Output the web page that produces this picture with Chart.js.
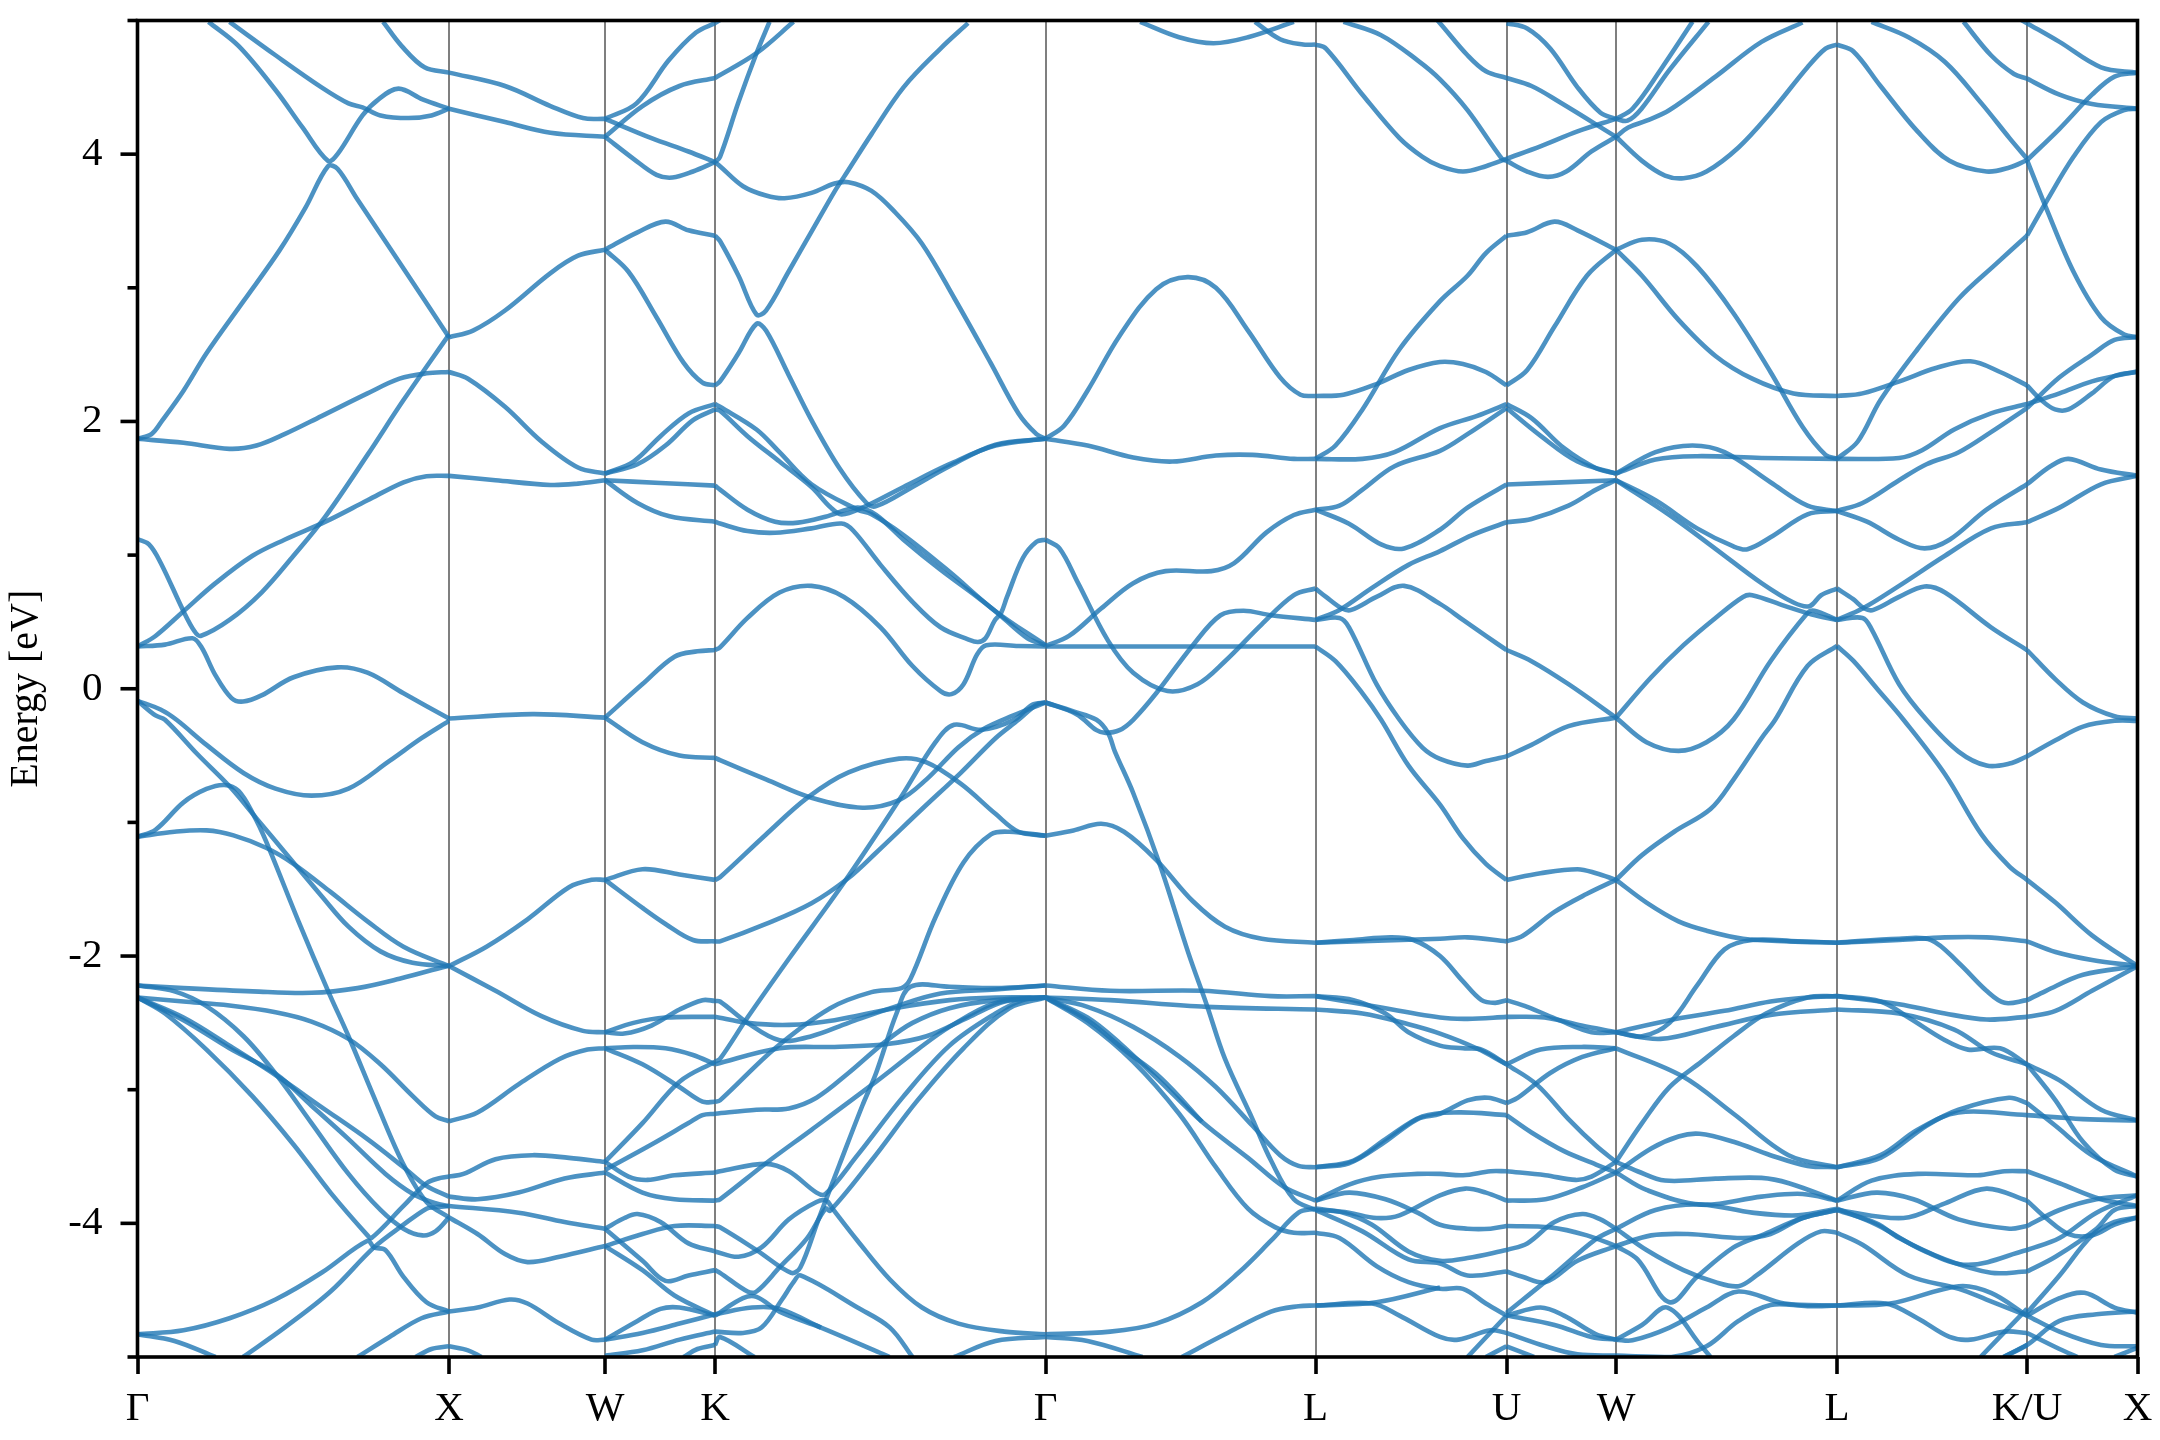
<!DOCTYPE html>
<html>
<head>
<meta charset="utf-8">
<title>Band structure</title>
<script src="https://cdn.jsdelivr.net/npm/chart.js@4"></script>
<style>
  html, body { margin: 0; background: #fff; }
  canvas { display: block; }
</style>
</head>
<body>
<canvas id="bands" width="2160" height="1440"></canvas>
<script>
// k-path positions and their labels
const kTicks = [0, 311.5, 467.5, 577.5, 908, 1178, 1369, 1478.5, 1699.5, 1889.5, 2000];
const kLabels = ['Γ', 'X', 'W', 'K', 'Γ', 'L', 'U', 'W', 'L', 'K/U', 'X'];
const energyTicks = [-4, -3, -2, -1, 0, 1, 2, 3, 4];

// Bands, one list per path segment.
// Each curve is a flat list: k, E, k, E, ...
const gammaX = [
  [71,4.99, 101,4.81, 138,4.48, 165,4.2, 190.5,3.95, 200,4.0, 225,4.29, 241,4.41, 261,4.49, 285,4.41, 311.5,4.34],
  [0,1.87, 14,1.905, 25,2.01, 46,2.23, 69,2.51, 106,2.9, 142,3.28, 168,3.6, 190.5,3.91, 200,3.89, 220,3.66, 262,3.19, 311.5,2.63],
  [92,4.99, 138,4.74, 184,4.5, 211,4.38, 225,4.35, 243,4.29, 271,4.27, 294,4.29, 311.5,4.34],
  [245.6,4.99, 264,4.81, 287,4.65, 311.5,4.61],
  [0,1.87, 46,1.84, 92,1.795, 119,1.82, 147,1.905, 184,2.04, 230,2.21, 262,2.32, 289,2.36, 311.5,2.37],
  [0,0.316, 18,0.395, 46,0.58, 78,0.79, 115,0.995, 147,1.115, 188,1.25, 230,1.41, 266,1.545, 289,1.59, 311.5,1.593],
  [0,1.12, 11.5,1.08, 23,0.945, 46,0.58, 57,0.43, 63,0.395, 92,0.515, 124,0.72, 156,0.995, 188,1.29, 230,1.75, 266,2.16, 311.5,2.65],
  [0,0.316, 27.5,0.33, 55,0.378, 64,0.31, 78,0.10, 94,-0.07, 105.6,-0.096, 124,-0.05, 156,0.086, 200,0.16, 230,0.12, 266,-0.034, 311.5,-0.223],
  [0,-0.09, 23,-0.155, 39,-0.232, 69,-0.42, 106,-0.63, 138,-0.747, 174,-0.80, 211,-0.747, 252,-0.54, 284,-0.37, 311.5,-0.24],
  [0,-0.09, 18,-0.2, 27.5,-0.232, 60,-0.49, 92,-0.73, 119,-0.97, 151.5,-1.26, 184,-1.55, 211,-1.78, 243,-1.965, 275,-2.05, 311.5,-2.075],
  [0,-1.107, 18,-1.055, 46,-0.85, 69,-0.75, 87,-0.72, 101,-0.764, 115.5,-0.936, 128.5,-1.14, 161,-1.74, 190.5,-2.26, 211,-2.6, 239,-3.1, 266,-3.56, 289,-3.84, 311.5,-3.956],
  [0,-1.107, 37,-1.07, 69,-1.06, 96,-1.097, 128.5,-1.19, 156,-1.31, 193,-1.52, 230,-1.74, 266,-1.93, 311.5,-2.075],
  [0,-2.22, 46,-2.24, 115,-2.264, 174,-2.275, 220,-2.24, 262,-2.17, 311.5,-2.07],
  [0,-2.31, 46,-2.34, 92,-2.37, 138,-2.42, 174,-2.49, 211,-2.62, 243,-2.81, 275.5,-3.05, 298,-3.2, 311.5,-3.236],
  [0,-2.22, 37,-2.264, 69,-2.375, 106,-2.6, 138,-2.88, 174,-3.25, 211,-3.63, 243,-3.9, 266,-4.04, 285,-4.09, 298,-4.06, 311.5,-3.956],
  [0,-2.31, 46,-2.46, 92,-2.67, 138,-2.89, 184,-3.13, 230,-3.37, 266,-3.58, 289,-3.72, 311.5,-3.80],
  [0,-2.31, 46,-2.48, 92,-2.69, 138,-2.88, 174,-3.12, 211,-3.37, 248,-3.63, 275.5,-3.78, 298,-3.85, 311.5,-3.87],
  [0,-2.31, 27.5,-2.43, 69,-2.70, 115,-3.05, 156,-3.41, 193,-3.77, 230,-4.09, 234,-4.11, 266,-3.87, 289,-3.70, 303,-3.66, 311.5,-3.65],
  [105.6,-5, 147,-4.78, 193,-4.51, 236.5,-4.18, 266,-4.01, 289,-3.89, 297,-3.88, 311.5,-3.87],
  [0,-4.83, 46,-4.80, 92,-4.71, 138,-4.57, 184,-4.37, 230,-4.13, 236.5,-4.18, 248,-4.2, 266,-4.4, 289,-4.59, 311.5,-4.66],
  [0,-4.83, 37,-4.88, 78,-5.0],
  [220,-5, 252,-4.85, 284,-4.71, 311.5,-4.66],
  [278,-5, 294,-4.94, 311.5,-4.92],
];

const xW = [
  [311.5,4.61, 367.5,4.51, 413,4.36, 445.5,4.27, 467.5,4.264],
  [311.5,4.34, 367.5,4.24, 413,4.16, 467.5,4.13],
  [311.5,2.63, 335.5,2.68, 367.5,2.83, 413,3.11, 440.5,3.24, 467.5,3.285],
  [311.5,2.37, 330.5,2.32, 367.5,2.11, 404,1.85, 440.5,1.655, 467.5,1.61],
  [311.5,1.593, 358,1.56, 413,1.525, 440.5,1.535, 467.5,1.56],
  [311.5,-0.223, 395,-0.19, 467.5,-0.216],
  [311.5,-2.075, 349,-1.93, 390,-1.725, 431.5,-1.485, 454,-1.43, 467.5,-1.43],
  [311.5,-2.075, 358,-2.26, 404,-2.45, 445.5,-2.56, 467.5,-2.57],
  [311.5,-3.236, 340,-3.17, 381,-2.96, 422,-2.77, 450,-2.70, 467.5,-2.69],
  [311.5,-3.65, 326,-3.63, 358,-3.52, 395,-3.49, 431.5,-3.51, 467.5,-3.54],
  [311.5,-3.80, 340,-3.82, 381,-3.77, 427,-3.665, 467.5,-3.62],
  [311.5,-3.87, 381,-3.92, 427,-3.99, 467.5,-4.04],
  [311.5,-3.956, 340,-4.08, 367.5,-4.23, 390,-4.29, 422,-4.25, 467.5,-4.17],
  [311.5,-4.66, 340,-4.63, 372,-4.57, 390,-4.6, 422,-4.75, 454,-4.87, 467.5,-4.87],
  [311.5,-4.92, 330.5,-4.95, 344,-5],
];

const wK = [
  [467.5,4.264, 499,4.38, 531,4.70, 558.5,4.91, 577.5,4.98],
  [467.5,4.13, 505,4.36, 542,4.51, 577.5,4.57],
  [467.5,4.264, 514,4.12, 551,4.02, 577.5,3.94],
  [467.5,4.13, 496,3.965, 519,3.845, 535,3.825, 555.5,3.87, 577.5,3.94],
  [467.5,3.285, 500,3.415, 528,3.495, 551,3.43, 577.5,3.39],
  [467.5,3.285, 491,3.12, 519,2.78, 546,2.44, 565,2.29, 577.5,2.27],
  [467.5,1.61, 496,1.70, 523,1.89, 551,2.06, 577.5,2.13],
  [467.5,1.61, 500,1.68, 528,1.82, 555.5,2.01, 577.5,2.09],
  [467.5,1.56, 523,1.54, 577.5,1.52],
  [467.5,1.56, 500,1.39, 532,1.29, 577.5,1.25],
  [467.5,-0.216, 505,0.035, 537,0.24, 560,0.28, 577.5,0.29],
  [467.5,-0.216, 505,-0.40, 542,-0.5, 577.5,-0.517],
  [467.5,-1.43, 505,-1.35, 542,-1.39, 577.5,-1.43],
  [467.5,-1.43, 505,-1.64, 528,-1.76, 555.5,-1.88, 577.5,-1.89],
  [467.5,-2.57, 496,-2.50, 528,-2.46, 577.5,-2.455],
  [467.5,-2.57, 486.7,-2.58, 514,-2.52, 542,-2.40, 565,-2.33, 577.5,-2.336],
  [467.5,-2.69, 496,-2.68, 528,-2.69, 555.5,-2.74, 577.5,-2.81],
  [467.5,-2.69, 505,-2.81, 542,-2.98, 565,-3.09, 577.5,-3.09],
  [467.5,-3.54, 505,-3.25, 542,-2.94, 577.5,-2.79],
  [467.5,-3.6, 514,-3.41, 551,-3.25, 565,-3.19, 577.5,-3.18],
  [467.5,-3.54, 491,-3.65, 510,-3.675, 537,-3.64, 577.5,-3.62],
  [467.5,-3.62, 505,-3.77, 537,-3.82, 577.5,-3.83],
  [467.5,-4.04, 487,-3.96, 500,-3.93, 523,-3.99, 551,-4.15, 577.5,-4.21],
  [467.5,-4.04, 505,-4.28, 528,-4.43, 551,-4.39, 577.5,-4.35],
  [467.5,-4.17, 505,-4.08, 537,-4.02, 577.5,-4.02],
  [467.5,-4.17, 505,-4.35, 537,-4.54, 577.5,-4.69],
  [467.5,-4.87, 500,-4.73, 523,-4.64, 542,-4.63, 577.5,-4.69],
  [467.5,-4.87, 505,-4.82, 542,-4.75, 577.5,-4.68],
  [467.5,-4.99, 505,-4.95, 542,-4.87, 577.5,-4.81],
  [546,-5, 560,-4.94, 577.5,-4.91],
];

const kGamma = [
  [577.5,4.98, 592,5.05],
  [577.5,4.57, 619,4.755, 656,4.99],
  [577.5,3.94, 582.5,3.98, 601,4.39, 619,4.755, 632,4.99],
  [577.5,3.94, 582.5,3.91, 605.5,3.76, 628.5,3.69, 647,3.67, 674,3.71, 697,3.78, 711,3.79, 734,3.725, 757,3.57, 784.5,3.33, 817,2.92, 853,2.44, 881,2.06, 899,1.905, 908,1.87],
  [577.5,3.39, 582.5,3.35, 601,3.09, 619,2.80, 628.5,2.83, 651,3.12, 674,3.42, 697,3.72, 706.5,3.83, 734,4.15, 766,4.50, 803,4.79, 830.5,4.98],
  [577.5,2.27, 582.5,2.30, 601,2.51, 619,2.73, 628.5,2.68, 651,2.35, 674,2.01, 702,1.65, 729,1.39, 738.6,1.366, 775,1.51, 812,1.665, 858,1.826, 908,1.87],
  [577.5,2.13, 582.5,2.11, 619,1.94, 642,1.77, 674,1.53, 720,1.34, 734,1.305, 766,1.15, 812,0.875, 858,0.58, 908,0.326],
  [577.5,2.09, 582.5,2.08, 610,1.89, 642,1.70, 674,1.51, 692.7,1.36, 704,1.305, 725,1.355, 766,1.51, 812,1.68, 858,1.82, 908,1.87],
  [577.5,1.52, 582.5,1.49, 610,1.34, 637.6,1.25, 660.5,1.243, 688,1.287, 720,1.356, 738.6,1.30, 766,1.115, 803,0.89, 839.6,0.687, 862.6,0.55, 890,0.378, 908,0.326],
  [577.5,1.25, 582.5,1.236, 610,1.18, 637.6,1.167, 674,1.20, 704,1.236, 715.6,1.184, 743,0.927, 775,0.65, 803,0.46, 830.5,0.37, 840.5,0.35, 848,0.378, 857,0.508, 863.5,0.566, 869.5,0.687, 885.5,0.98, 899,1.10, 908,1.115],
  [577.5,0.29, 582.5,0.31, 610,0.53, 642,0.72, 674,0.77, 706.5,0.687, 743,0.46, 775,0.17, 803,-0.017, 814,-0.04, 826,0.034, 839.6,0.257, 848.8,0.326, 881,0.32, 908,0.316],
  [577.5,-0.517, 582.5,-0.534, 628.5,-0.678, 674,-0.815, 725,-0.89, 761.6,-0.833, 789,-0.678, 821,-0.437, 846.5,-0.30, 876,-0.2, 908,-0.103],
  [577.5,-1.43, 582.5,-1.41, 628.5,-1.09, 670,-0.815, 711,-0.626, 761.6,-0.523, 789,-0.55, 823.5,-0.712, 858,-0.936, 881,-1.07, 908,-1.10],
  [577.5,-1.89, 582.5,-1.89, 628.5,-1.76, 674,-1.605, 711,-1.416, 738.6,-1.227, 784.5,-0.9, 823.5,-0.627, 858,-0.37, 881,-0.232, 899,-0.12, 908,-0.103],
  [577.5,-2.79, 582.5,-2.77, 610,-2.46, 651.4,-2.02, 706.5,-1.45, 761.6,-0.833, 798,-0.40, 816.6,-0.27, 844,-0.307, 876.6,-0.232, 894.7,-0.12, 908,-0.103],
  [577.5,-2.336, 582.5,-2.34, 610,-2.5, 642,-2.63, 674,-2.6, 711,-2.5, 757,-2.38, 803,-2.28, 858,-2.25, 908,-2.22],
  [577.5,-2.455, 610,-2.50, 651.4,-2.515, 697,-2.48, 757,-2.39, 812,-2.33, 858,-2.31, 908,-2.31],
  [577.5,-3.09, 582.5,-3.08, 637.6,-2.69, 692.7,-2.39, 734,-2.27, 764,-2.24, 773,-2.17, 798,-1.71, 826,-1.30, 853.4,-1.09, 871.8,-1.07, 908,-1.10],
  [577.5,-2.81, 642,-2.69, 697,-2.68, 747.8,-2.66, 789,-2.6, 830.5,-2.46, 867,-2.34, 908,-2.31],
  [577.5,-3.18, 619,-3.15, 651.4,-3.14, 679,-3.06, 711,-2.875, 747.8,-2.64, 775,-2.50, 812,-2.39, 858,-2.33, 908,-2.31],
  [577.5,-3.83, 582.5,-3.82, 628.5,-3.55, 674,-3.30, 738.6,-2.94, 780,-2.70, 812,-2.53, 858,-2.35, 908,-2.31],
  [577.5,-3.62, 582.5,-3.61, 628.5,-3.555, 651.4,-3.61, 679,-3.77, 688,-3.78, 720,-3.49, 766,-3.05, 812,-2.67, 858,-2.43, 885.5,-2.33, 908,-2.31],
  [577.5,-4.02, 582.5,-4.03, 619,-4.2, 653.7,-4.37, 662.8,-4.33, 681,-3.97, 702,-3.56, 724.8,-3.12, 738.6,-2.875, 759,-2.43, 773,-2.23, 812,-2.23, 858,-2.24, 908,-2.22],
  [577.5,-4.21, 601,-4.25, 624,-4.18, 651.4,-3.97, 679,-3.84, 689,-3.83, 695,-3.89, 720,-4.13, 752.4,-4.42, 784.5,-4.63, 821,-4.75, 867,-4.81, 908,-4.83],
  [577.5,-4.35, 582.5,-4.37, 610,-4.51, 619,-4.51, 642,-4.33, 669.7,-4.11, 688,-3.89, 692.7,-3.905, 734,-3.53, 780,-3.08, 826,-2.69, 871.8,-2.39, 908,-2.31],
  [577.5,-4.69, 605.5,-4.56, 619,-4.55, 642,-4.66, 683.5,-4.78, 743,-4.97, 752,-5],
  [577.5,-4.68, 614.6,-4.63, 642,-4.64, 683.5,-4.78],
  [577.5,-4.81, 605.5,-4.82, 624,-4.78, 644.5,-4.57, 656,-4.44, 663,-4.39, 720,-4.63, 752.4,-4.78, 775,-5],
  [816.6,-5, 858,-4.88, 908,-4.85],
  [577.5,-4.91, 582.5,-4.85, 617,-5],
];

const gammaL = [
  [1002.6,4.99, 1041.6,4.875, 1076,4.83, 1110.5,4.875, 1156.4,4.99],
  [1117.4,4.99, 1142.6,4.86, 1165.6,4.82, 1178,4.82],
  [908,1.87, 926.8,1.97, 950,2.23, 982,2.64, 1018.7,2.99, 1050,3.08, 1078.4,3.0, 1110.5,2.68, 1142.6,2.33, 1163,2.2, 1178,2.19],
  [908,1.87, 950,1.82, 995.7,1.73, 1034.7,1.70, 1078.4,1.745, 1115,1.75, 1156.4,1.72, 1178,1.72],
  [908,1.115, 922,1.05, 940.6,0.79, 970.5,0.36, 995.7,0.12, 1030,-0.017, 1060,0.034, 1087.5,0.206, 1124,0.48, 1156.4,0.70, 1178,0.75],
  [908,0.32, 931.5,0.395, 963.6,0.60, 995.7,0.79, 1028,0.88, 1073.8,0.88, 1096.7,0.94, 1129,1.17, 1156.4,1.30, 1178,1.34],
  [908,0.316, 1178,0.316],
  [908,-0.103, 939,-0.19, 959,-0.31, 968,-0.33, 982,-0.31, 995.7,-0.232, 1018.7,-0.034, 1055.4,0.326, 1083,0.55, 1106,0.584, 1133.5,0.55, 1178,0.515],
  [908,-0.103, 936,-0.17, 959,-0.232, 970.5,-0.33, 977.4,-0.47, 995.7,-0.78, 1023,-1.33, 1051,-1.98, 1069,-2.36, 1087.5,-2.77, 1115,-3.22, 1133.5,-3.53, 1156.4,-3.82, 1178,-3.9],
  [908,-1.10, 936,-1.06, 963.6,-1.01, 986.5,-1.07, 1018.7,-1.28, 1055.4,-1.59, 1087.5,-1.78, 1124.3,-1.87, 1178,-1.90],
  [908,-2.22, 972.7,-2.26, 1064.5,-2.26, 1133.5,-2.30, 1178,-2.30],
  [908,-2.31, 972.7,-2.33, 1069,-2.38, 1178,-2.40],
  [908,-2.31, 950,-2.38, 995.7,-2.53, 1041.6,-2.75, 1078.4,-2.98, 1115,-3.27, 1142.6,-3.49, 1161,-3.57, 1178,-3.58],
  [908,-2.31, 950,-2.46, 982,-2.65, 1018.7,-2.91, 1064.5,-3.24, 1110.5,-3.51, 1147,-3.73, 1178,-3.83],
  [908,-2.31, 950,-2.48, 986.5,-2.70, 1023,-2.91, 1064.5,-3.24],
  [908,-2.31, 950,-2.5, 995.7,-2.79, 1041.6,-3.18, 1078.4,-3.58, 1110.5,-3.89, 1138,-4.03, 1156.4,-4.07, 1178,-4.07],
  [908,-4.83, 972.7,-4.81, 1018.7,-4.75, 1064.5,-4.59, 1101,-4.37, 1133.5,-4.13, 1161,-3.92, 1178,-3.89],
  [908,-4.85, 950,-4.88, 1005,-5],
  [1044.4,-5, 1087.5,-4.83, 1133.5,-4.66, 1161,-4.62, 1178,-4.615],
];

const lU = [
  [1178,4.82, 1188.5,4.79, 1225,4.445, 1262,4.12, 1285,3.98, 1302.5,3.91, 1325.5,3.87, 1348.4,3.91, 1369,3.965],
  [1295,5.04, 1302.5,4.98, 1330,4.74, 1348.4,4.62, 1369,4.57],
  [1206,4.99, 1243.6,4.89, 1280.4,4.70, 1302.5,4.56, 1330,4.33, 1364.5,3.965, 1369,3.95],
  [1178,2.19, 1206,2.2, 1239,2.28, 1271,2.385, 1302.5,2.445, 1325.5,2.43, 1348.4,2.37, 1369,2.27],
  [1178,1.72, 1198,1.82, 1225,2.09, 1262,2.54, 1302.5,2.9, 1330,3.09, 1348.4,3.26, 1369,3.39],
  [1178,1.72, 1225,1.72, 1257,1.77, 1302.5,1.95, 1339,2.04, 1369,2.13],
  [1178,1.34, 1202,1.37, 1225,1.49, 1257,1.665, 1302.5,1.78, 1330,1.905, 1369,2.1],
  [1178,1.34, 1211.5,1.235, 1243.6,1.08, 1266.6,1.05, 1302.5,1.19, 1330,1.355, 1369,1.528],
  [1178,0.75, 1188.5,0.687, 1204.6,0.60, 1213.8,0.59, 1239,0.687, 1266.6,0.77, 1302.5,0.635, 1325.5,0.515, 1348.4,0.395, 1369,0.29],
  [1178,0.515, 1202,0.59, 1234.5,0.755, 1271,0.927, 1302.5,1.03, 1334.6,1.15, 1369,1.246],
  [1178,0.515, 1202,0.53, 1211.5,0.46, 1239,0.034, 1262,-0.232, 1285,-0.44, 1302.5,-0.524, 1330,-0.575, 1348.4,-0.54, 1369,-0.506],
  [1178,0.316, 1198,0.206, 1225,-0.034, 1243.6,-0.232, 1271,-0.575, 1302.5,-0.867, 1325.5,-1.12, 1348.4,-1.31, 1369,-1.43],
  [1178,-1.90, 1216,-1.88, 1253,-1.86, 1276,-1.88, 1302.5,-2.0, 1325.5,-2.19, 1344,-2.33, 1357.6,-2.35, 1369,-2.33],
  [1178,-1.90, 1302.5,-1.87, 1330,-1.86, 1369,-1.89],
  [1178,-2.3, 1216,-2.33, 1248,-2.43, 1271,-2.57, 1302.5,-2.67, 1325.5,-2.69, 1344,-2.7, 1369,-2.81],
  [1178,-2.3, 1225,-2.36, 1302.5,-2.46, 1330,-2.47, 1369,-2.455],
  [1178,-2.4, 1225,-2.43, 1271,-2.51, 1302.5,-2.58, 1339,-2.69, 1369,-2.81],
  [1178,-3.58, 1211.5,-3.55, 1243.6,-3.41, 1280,-3.22, 1302.5,-3.18, 1330,-3.08, 1350.7,-3.06, 1369,-3.1],
  [1178,-3.58, 1216,-3.53, 1248,-3.37, 1285,-3.2, 1321,-3.17, 1369,-3.19],
  [1178,-3.83, 1211.5,-3.71, 1243.6,-3.65, 1280,-3.63, 1302.5,-3.63, 1325.5,-3.64, 1353,-3.61, 1369,-3.61],
  [1178,-3.83, 1211.5,-3.77, 1248,-3.82, 1280,-3.92, 1302.5,-4.01, 1330,-4.04, 1353,-4.04, 1369,-4.02],
  [1178,-3.89, 1211.5,-3.92, 1239,-3.96, 1262,-3.94, 1302.5,-3.79, 1327.8,-3.74, 1348.4,-3.77, 1369,-3.83],
  [1178,-3.9, 1206,-3.92, 1234.5,-4.01, 1271,-4.21, 1302.5,-4.28, 1330,-4.26, 1369,-4.2],
  [1178,-3.9, 1225,-4.06, 1271,-4.27, 1302.5,-4.3, 1330,-4.39, 1369,-4.36],
  [1178,-4.07, 1202,-4.11, 1239,-4.32, 1271,-4.44, 1302.5,-4.49, 1325.5,-4.49, 1348.4,-4.6, 1369,-4.69],
  [1178,-4.615, 1234.5,-4.6, 1262,-4.69, 1302.5,-4.85, 1321,-4.87, 1353,-4.8, 1369,-4.82],
  [1178,-4.615, 1239,-4.59, 1302.5,-4.48],
  [1330,-5, 1369,-4.69],
  [1348.4,-5, 1369,-4.92],
];

const uW = [
  [1369,4.57, 1394,4.51, 1422,4.39, 1478.5,4.13],
  [1369,3.95, 1389.7,3.87, 1410.4,3.83, 1428.8,3.87, 1454,4.02, 1478.5,4.13],
  [1369,3.965, 1403.5,4.06, 1440,4.17, 1478.5,4.264],
  [1369,4.98, 1389.7,4.94, 1412.7,4.79, 1440,4.5, 1463,4.31, 1478.5,4.264],
  [1369,3.39, 1389.7,3.416, 1417,3.495, 1440,3.43, 1478.5,3.285],
  [1369,2.27, 1389.7,2.385, 1417,2.71, 1449.4,3.09, 1478.5,3.285],
  [1369,2.13, 1394,2.025, 1426.5,1.80, 1458.6,1.65, 1478.5,1.61],
  [1369,2.1, 1403.5,1.89, 1440,1.70, 1478.5,1.61],
  [1369,1.528, 1478.5,1.56],
  [1369,1.246, 1394,1.27, 1431,1.37, 1458.6,1.49, 1478.5,1.56],
  [1369,0.29, 1394,0.206, 1431,0.034, 1478.5,-0.216],
  [1369,-0.506, 1394,-0.42, 1431,-0.28, 1478.5,-0.216],
  [1369,-1.43, 1403,-1.38, 1440,-1.35, 1458.6,-1.38, 1478.5,-1.43],
  [1369,-1.89, 1385,-1.85, 1417,-1.67, 1449,-1.536, 1478.5,-1.43],
  [1369,-2.33, 1389.7,-2.38, 1421.7,-2.48, 1454,-2.57, 1478.5,-2.57],
  [1369,-2.455, 1407,-2.46, 1444,-2.52, 1478.5,-2.57],
  [1369,-2.81, 1403,-2.70, 1444,-2.68, 1478.5,-2.69],
  [1369,-2.81, 1399,-2.96, 1431,-3.22, 1458.6,-3.42, 1478.5,-3.54],
  [1369,-3.1, 1380.5,-3.06, 1412.7,-2.875, 1444.8,-2.755, 1478.5,-2.69],
  [1369,-3.19, 1394,-3.32, 1426.5,-3.46, 1458.6,-3.56, 1478.5,-3.62],
  [1369,-3.61, 1408,-3.64, 1438,-3.675, 1454,-3.65, 1478.5,-3.54],
  [1369,-3.83, 1408,-3.82, 1444.8,-3.73, 1478.5,-3.62],
  [1369,-4.02, 1412.7,-4.03, 1449.4,-4.09, 1478.5,-4.17],
  [1369,-4.2, 1389.7,-4.15, 1417,-3.99, 1444.8,-3.93, 1463,-3.97, 1478.5,-4.04],
  [1369,-4.36, 1385,-4.4, 1408,-4.44, 1440,-4.28, 1478.5,-4.17],
  [1369,-4.67, 1412,-4.41, 1458,-4.12, 1478.5,-4.04],
  [1369,-4.69, 1417,-4.76, 1454,-4.85, 1478.5,-4.87],
  [1369,-4.69, 1403,-4.63, 1426.5,-4.69, 1458.6,-4.83, 1478.5,-4.87],
  [1369,-4.82, 1408,-4.92, 1440,-4.98, 1478.5,-4.99],
  [1369,-4.92, 1396.5,-5],
];

const wL = [
  [1478.5,4.264, 1495,4.34, 1523,4.63, 1555,4.99],
  [1478.5,4.264, 1490,4.25, 1504,4.34, 1532,4.63, 1571,4.99],
  [1478.5,4.13, 1490.7,4.2, 1509,4.25, 1532,4.33, 1578,4.58, 1624,4.84, 1665,4.985],
  [1478.5,4.13, 1504.5,3.95, 1527.5,3.84, 1546,3.82, 1569,3.87, 1601,4.05, 1633,4.31, 1670,4.65, 1688,4.79, 1699.5,4.82],
  [1478.5,3.285, 1504.5,3.36, 1532,3.33, 1559.6,3.16, 1596,2.81, 1633,2.37, 1665,1.96, 1688,1.75, 1699.5,1.72],
  [1478.5,3.285, 1504.5,3.09, 1541,2.76, 1578,2.49, 1614.7,2.32, 1656,2.21, 1699.5,2.19],
  [1478.5,1.61, 1518,1.77, 1555,1.82, 1587,1.77, 1633,1.545, 1670,1.37, 1699.5,1.33],
  [1478.5,1.61, 1518,1.715, 1559.6,1.74, 1624,1.727, 1699.5,1.72],
  [1478.5,1.56, 1518,1.41, 1559.6,1.20, 1596,1.065, 1610,1.044, 1633,1.133, 1670,1.305, 1699.5,1.33],
  [1478.5,1.56, 1532,1.30, 1578,1.047, 1624,0.79, 1656,0.645, 1672,0.618, 1683.6,0.70, 1699.5,0.75],
  [1478.5,-0.216, 1513.7,0.086, 1546,0.326, 1578,0.53, 1605.5,0.687, 1614.7,0.70, 1647,0.62, 1674.4,0.556, 1699.5,0.515],
  [1478.5,-0.216, 1509,-0.40, 1541,-0.465, 1569,-0.40, 1596,-0.23, 1633,0.206, 1670,0.566, 1676.7,0.584, 1699.5,0.515],
  [1478.5,-1.43, 1504.5,-1.245, 1536.7,-1.07, 1573,-0.9, 1596,-0.68, 1624,-0.37, 1637.7,-0.232, 1670,0.17, 1699.5,0.32],
  [1478.5,-1.43, 1509,-1.6, 1541,-1.74, 1569,-1.81, 1605.5,-1.87, 1651.4,-1.89, 1699.5,-1.90],
  [1478.5,-2.57, 1532,-2.48, 1587,-2.41, 1633,-2.34, 1670,-2.31, 1699.5,-2.3],
  [1478.5,-2.57, 1504.5,-2.6, 1532,-2.5, 1559.6,-2.22, 1587,-1.95, 1614.7,-1.88, 1660,-1.89, 1699.5,-1.90],
  [1478.5,-2.57, 1523,-2.62, 1578,-2.53, 1633,-2.44, 1699.5,-2.4],
  [1478.5,-2.69, 1545,-2.9, 1596,-3.18, 1651,-3.49, 1699.5,-3.58],
  [1478.5,-3.54, 1504.5,-3.25, 1532,-2.98, 1564,-2.79, 1596,-2.6, 1628.5,-2.43, 1670,-2.31, 1699.5,-2.3],
  [1478.5,-3.62, 1513.7,-3.44, 1541,-3.35, 1562,-3.33, 1596,-3.39, 1633,-3.49, 1670,-3.57, 1699.5,-3.58],
  [1478.5,-3.54, 1500,-3.61, 1527.5,-3.68, 1578,-3.665, 1624,-3.66, 1651.4,-3.70, 1699.5,-3.83],
  [1478.5,-3.62, 1509,-3.75, 1564,-3.86, 1624,-3.8, 1665,-3.78, 1699.5,-3.83],
  [1478.5,-4.04, 1518,-3.9, 1564,-3.86, 1614.7,-3.92, 1660.6,-3.94, 1699.5,-3.89],
  [1478.5,-4.17, 1513.7,-4.09, 1550,-4.08, 1605.5,-4.11, 1633,-4.08, 1665,-3.96, 1699.5,-3.9],
  [1478.5,-4.04, 1509,-4.2, 1546,-4.35, 1578,-4.44, 1601,-4.47, 1619,-4.39, 1660.6,-4.15, 1683.6,-4.06, 1699.5,-4.07],
  [1478.5,-4.17, 1500,-4.27, 1532,-4.59, 1559.6,-4.4, 1596,-4.18, 1624,-4.09, 1665,-3.96, 1699.5,-3.9],
  [1478.5,-4.87, 1495,-4.875, 1532,-4.78, 1569,-4.63, 1601,-4.51, 1647,-4.6, 1699.5,-4.615],
  [1478.5,-4.87, 1504.5,-4.76, 1530,-4.63, 1564,-4.92, 1573,-5],
  [1478.5,-4.99, 1534,-5, 1569,-4.92, 1601,-4.73, 1633,-4.61, 1670,-4.62, 1699.5,-4.615],
];

const lK = [
  [1699.5,4.82, 1715.7,4.77, 1743,4.51, 1780,4.17, 1812,3.95, 1849,3.87, 1872,3.9, 1889.5,3.955],
  [1734,4.99, 1771,4.875, 1807.5,4.69, 1844,4.38, 1872,4.12, 1889.5,3.965],
  [1826,4.99, 1853.5,4.74, 1876.5,4.6, 1889.5,4.565],
  [1880,5.02, 1889.5,4.98],
  [1699.5,2.19, 1725,2.21, 1762,2.3, 1798.4,2.40, 1833,2.45, 1862.6,2.37, 1889.5,2.27],
  [1699.5,1.72, 1720.3,1.85, 1743,2.16, 1780,2.54, 1821.3,2.92, 1858,3.175, 1889.5,3.39],
  [1699.5,1.72, 1761.6,1.727, 1784.6,1.785, 1816.7,1.94, 1853.5,2.06, 1889.5,2.13],
  [1699.5,1.33, 1725,1.39, 1761.6,1.56, 1789,1.68, 1821.3,1.77, 1853.5,1.92, 1889.5,2.1],
  [1699.5,1.33, 1729.5,1.25, 1761.6,1.115, 1787,1.05, 1812,1.115, 1849,1.34, 1889.5,1.53],
  [1699.5,0.75, 1715.7,0.67, 1727,0.60, 1736,0.59, 1761.6,0.687, 1787,0.765, 1807.5,0.72, 1853.5,0.46, 1889.5,0.29],
  [1699.5,0.515, 1725,0.60, 1761.6,0.77, 1807.5,0.995, 1853.5,1.2, 1889.5,1.246],
  [1699.5,0.515, 1725,0.53, 1734,0.446, 1761.6,0.034, 1789,-0.232, 1821,-0.47, 1849,-0.575, 1872,-0.56, 1889.5,-0.506],
  [1699.5,0.32, 1715.7,0.21, 1739.6,0, 1766,-0.232, 1807.5,-0.64, 1844,-1.09, 1872,-1.33, 1889.5,-1.43],
  [1699.5,-1.90, 1761.6,-1.87, 1793.6,-1.88, 1821,-2.05, 1849,-2.26, 1867,-2.35, 1889.5,-2.33],
  [1699.5,-1.90, 1761.6,-1.88, 1807.5,-1.86, 1849,-1.86, 1889.5,-1.89],
  [1699.5,-2.3, 1743,-2.34, 1771,-2.46, 1807.5,-2.63, 1830.5,-2.7, 1862.6,-2.69, 1889.5,-2.81],
  [1699.5,-2.3, 1761.6,-2.36, 1807.5,-2.43, 1849,-2.475, 1889.5,-2.455],
  [1699.5,-2.4, 1761.6,-2.43, 1816.7,-2.55, 1853.5,-2.72, 1889.5,-2.81],
  [1699.5,-3.58, 1743,-3.49, 1780,-3.3, 1821,-3.17, 1889.5,-3.19],
  [1699.5,-3.58, 1743,-3.51, 1789,-3.27, 1821,-3.15, 1871.5,-3.06, 1889.5,-3.1],
  [1699.5,-3.83, 1734,-3.68, 1780,-3.63, 1840,-3.64, 1867,-3.61, 1889.5,-3.61],
  [1699.5,-3.83, 1739,-3.77, 1776,-3.82, 1821,-3.97, 1872,-4.04, 1889.5,-4.02],
  [1699.5,-3.9, 1766,-3.96, 1807.5,-3.85, 1849,-3.74, 1889.5,-3.83],
  [1699.5,-3.89, 1739,-4.01, 1785,-4.2, 1830.5,-4.31, 1889.5,-4.2],
  [1699.5,-3.9, 1739,-4.0, 1761.6,-4.11, 1807.5,-4.27, 1853.5,-4.37, 1889.5,-4.36],
  [1699.5,-4.07, 1725,-4.16, 1771,-4.39, 1821.3,-4.49, 1849,-4.57, 1889.5,-4.69],
  [1699.5,-4.615, 1752.6,-4.6, 1821.3,-4.47, 1853.5,-4.52, 1889.5,-4.69],
  [1699.5,-4.615, 1748,-4.6, 1780,-4.71, 1812,-4.85, 1833,-4.87, 1867,-4.81, 1889.5,-4.82],
  [1843,-5, 1889.5,-4.64],
  [1866,-5, 1889.5,-4.91],
];

const uX = [
  [1889.5,4.565, 1922,4.445, 1954.5,4.375, 2000,4.34],
  [1889.5,4.98, 1922,4.84, 1963.5,4.65, 2000,4.61],
  [1889.5,3.955, 1922,4.19, 1954.5,4.445, 1977,4.58, 2000,4.61],
  [1889.5,3.39, 1908.5,3.64, 1936,3.98, 1963.5,4.24, 1986.7,4.33, 2000,4.34],
  [1889.5,3.955, 1908.5,3.6, 1936,3.12, 1963.5,2.78, 1986.7,2.65, 2000,2.63],
  [1889.5,2.27, 1903.7,2.16, 1917.5,2.09, 1931,2.09, 1954.5,2.21, 1977,2.34, 2000,2.37],
  [1889.5,2.13, 1922,2.21, 1954.5,2.3, 2000,2.375],
  [1889.5,2.1, 1922,2.33, 1954.5,2.5, 1977,2.61, 2000,2.63],
  [1889.5,1.53, 1913,1.665, 1931,1.72, 1963.5,1.64, 2000,1.593],
  [1889.5,1.246, 1922,1.355, 1963.5,1.53, 2000,1.593],
  [1889.5,0.29, 1918,0.07, 1945.5,-0.103, 1977,-0.206, 2000,-0.223],
  [1889.5,-0.506, 1918,-0.386, 1945.5,-0.283, 1977,-0.24, 2000,-0.24],
  [1889.5,-1.43, 1918,-1.6, 1954.5,-1.845, 2000,-2.075],
  [1889.5,-1.89, 1918,-1.97, 1954.5,-2.03, 2000,-2.075],
  [1889.5,-2.33, 1908.5,-2.26, 1945.5,-2.14, 2000,-2.075],
  [1889.5,-2.455, 1918,-2.41, 1954.5,-2.26, 2000,-2.075],
  [1889.5,-2.81, 1922,-2.93, 1963.5,-3.15, 2000,-3.23],
  [1889.5,-2.81, 1918,-3.08, 1945.5,-3.39, 1977,-3.6, 2000,-3.65],
  [1889.5,-3.1, 1918,-3.27, 1954.5,-3.49, 2000,-3.65],
  [1889.5,-3.19, 1945.5,-3.22, 2000,-3.23],
  [1889.5,-3.61, 1922,-3.7, 1963.5,-3.82, 2000,-3.87],
  [1889.5,-3.83, 1908.5,-3.96, 1931,-4.08, 1954.5,-4.09, 1977,-4.01, 2000,-3.956],
  [1889.5,-4.02, 1922,-3.9, 1959,-3.82, 2000,-3.79],
  [1889.5,-4.2, 1922,-4.11, 1959,-3.92, 2000,-3.79],
  [1889.5,-4.36, 1918,-4.25, 1959,-4.04, 1977,-3.9, 2000,-3.87],
  [1889.5,-4.67, 1922,-4.39, 1954.5,-4.09, 1977,-3.99, 2000,-3.956],
  [1889.5,-4.69, 1922,-4.56, 1947,-4.52, 1977,-4.63, 2000,-4.67],
  [1889.5,-4.82, 1922,-4.94, 1940,-5],
  [1889.5,-4.69, 1922,-4.81, 1963.5,-4.91, 2000,-4.92],
  [1866,-5, 1889.5,-4.91, 1922,-4.73, 1959,-4.68, 2000,-4.66],
  [1977,-5, 2000,-4.93],
];

const BAND_COLOR = 'rgba(31,119,180,0.8)';
const FONT = '"Liberation Serif", "Times New Roman", serif';

// Helper: turn a flat k,E list into chart points
function toPoints(curve) {
  const points = [];
  for (let i = 0; i < curve.length; i += 2) {
    points.push({ x: curve[i], y: curve[i + 1] });
  }
  return points;
}

const allCurves = [gammaX, xW, wK, kGamma, gammaL, lU, uW, wL, lK, uX].flat();

// Frame and the y tick marks, so minor ticks can be shorter than major ones
const framePlugin = {
  id: 'frame',
  afterDraw(chart) {
    const { ctx, chartArea: a, scales: { y } } = chart;
    ctx.save();
    ctx.strokeStyle = '#000';
    ctx.lineWidth = 3.6;
    energyTicks.concat([5, -5]).forEach(v => {
      const py = y.getPixelForValue(v);
      const len = Math.abs(v) % 2 === 0 ? 17 : 10;
      ctx.beginPath();
      ctx.moveTo(a.left - len, py);
      ctx.lineTo(a.left, py);
      ctx.stroke();
    });
    ctx.strokeRect(a.left, a.top, a.right - a.left, a.bottom - a.top);
    ctx.restore();
  }
};

new Chart(document.getElementById('bands').getContext('2d'), {
  type: 'scatter',
  data: {
    datasets: allCurves.map(curve => ({
      data: toPoints(curve),
      showLine: true,
      borderColor: BAND_COLOR,
      borderWidth: 4.6,
      pointRadius: 0,
      tension: 0.35,
    }))
  },
  options: {
    responsive: false,
    animation: false,
    events: [],
    layout: { padding: { top: 20.5, right: 22.5, left: 0, bottom: 0 } },
    plugins: { legend: { display: false }, tooltip: { enabled: false } },
    scales: {
      x: {
        type: 'linear',
        min: 0,
        max: 2000,
        afterBuildTicks: axis => { axis.ticks = kTicks.map(v => ({ value: v })); },
        afterFit: axis => {
          axis.height = 83;
          axis.paddingLeft = axis.paddingRight = 0;
        },
        border: { display: false },
        grid: { color: 'rgba(0,0,0,0.5)', lineWidth: 2, tickColor: '#000', tickWidth: 3.6, tickLength: 17 },
        ticks: {
          autoSkip: false,
          maxRotation: 0,
          padding: 11,
          color: '#000',
          font: { family: FONT, size: 41 },
          callback: (v, i) => kLabels[i],
        }
      },
      y: {
        type: 'linear',
        min: -5,
        max: 5,
        afterFit: axis => {
          axis.width = 137.5;
          axis.paddingTop = axis.paddingBottom = 0;
        },
        border: { display: false },
        grid: { display: false },
        title: {
          display: true,
          text: 'Energy [eV]',
          color: '#000',
          font: { family: FONT, size: 40 },
          padding: { top: 2, bottom: 0 },
        },
        ticks: {
          stepSize: 1,
          padding: 27,
          color: '#000',
          font: { family: FONT, size: 41 },
          callback: v => (v % 2 === 0 && Math.abs(v) < 5 ? String(v) : ''),
        }
      }
    }
  },
  plugins: [framePlugin]
});
</script>
</body>
</html>
